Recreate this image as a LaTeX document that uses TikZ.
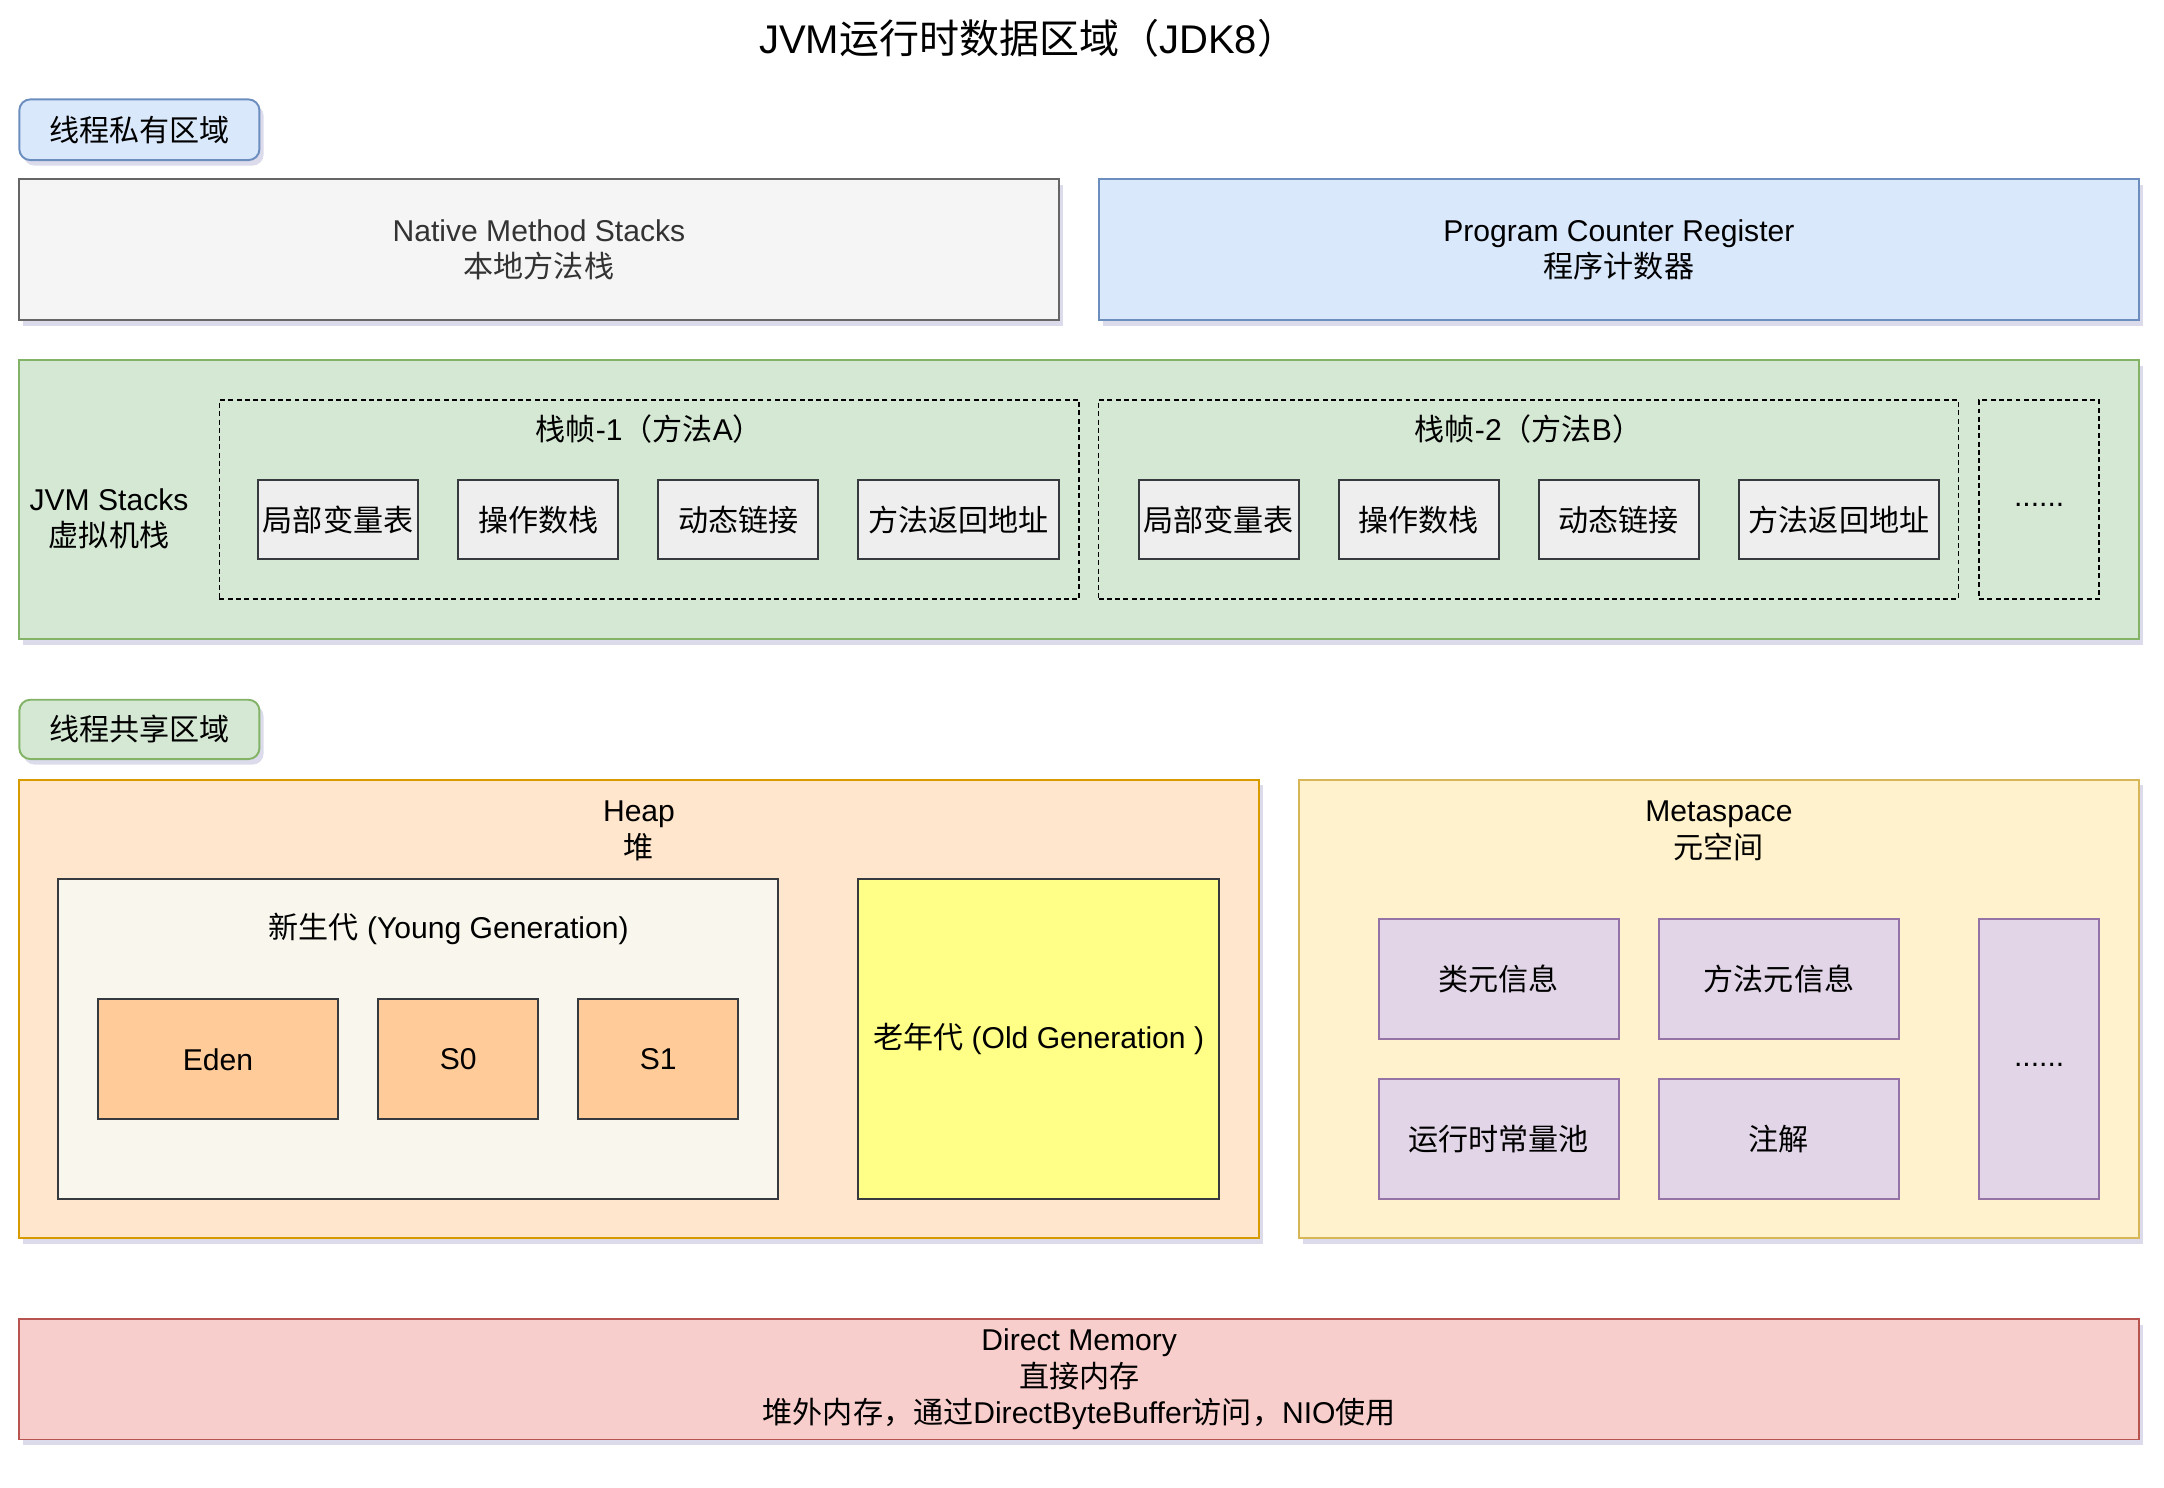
\documentclass[tikz,border=0pt]{standalone}
\usepackage{fontspec}
\setmainfont{Liberation Sans}
\newfontfamily\cjkfont{Noto Sans CJK SC}
\usepackage{xcolor}
\definecolor{tagblue}{HTML}{DAE8FC}
\definecolor{tagblueline}{HTML}{6C8EBF}
\definecolor{nativegray}{HTML}{F5F5F5}
\definecolor{nativegrayline}{HTML}{666666}
\definecolor{nativetext}{HTML}{333333}
\definecolor{stackgreen}{HTML}{D5E8D4}
\definecolor{stackgreenline}{HTML}{82B366}
\definecolor{slotgray}{HTML}{EEEEEE}
\definecolor{darkline}{HTML}{36393D}
\definecolor{heaporange}{HTML}{FFE6CC}
\definecolor{heaporangeline}{HTML}{D79B00}
\definecolor{younggray}{HTML}{F9F7ED}
\definecolor{edenorange}{HTML}{FFCC99}
\definecolor{oldyellow}{HTML}{FFFF88}
\definecolor{metayellow}{HTML}{FFF2CC}
\definecolor{metayellowline}{HTML}{D6B656}
\definecolor{metapurple}{HTML}{E1D5E7}
\definecolor{metapurpleline}{HTML}{9673A6}
\definecolor{directred}{HTML}{F8CECC}
\definecolor{directredline}{HTML}{B85450}
\usepackage{tikz}
\usetikzlibrary{positioning}
\usetikzlibrary{shadows}
\newcommand{\zh}[1]{{\cjkfont #1}}
\newcommand{\px}{0.5pt}
\newcommand{\diagfont}{\fontsize{10.9}{13.2}\selectfont}
\newcommand{\widthslot}{116*\px}
\newcommand{\widthslotwide}{145*\px}
\newcommand{\heightslot}{57*\px}
\newcommand{\widthmeta}{174*\px}
\newcommand{\heightmeta}{87*\px}
\tikzset{
    common/.style={anchor=north west, draw, rectangle, inner sep=0pt, outer sep=0pt, line width=0.7pt, align=center, font=\diagfont},
    shadowed/.style={drop shadow={shadow xshift=1.5pt, shadow yshift=-2pt, fill=gray!70!blue, opacity=0.22}},
    tag/.style={common, shadowed, rounded corners=4pt, minimum width=174*\px, minimum height=44*\px},
    area/.style={common, shadowed},
    frame/.style={common, dash pattern=on 1.8pt off 1.2pt, line width=0.6pt},
    slot/.style={common, fill=slotgray, draw=darkline, minimum width=\widthslot, minimum height=\heightslot},
    gen/.style={common, fill=edenorange, draw=darkline, minimum height=87*\px},
    meta/.style={common, fill=metapurple, draw=metapurpleline, minimum width=\widthmeta, minimum height=\heightmeta},
    caption/.style={align=center, inner sep=0pt, font=\diagfont}
}
\begin{document}
\begin{tikzpicture}[x=\px, y=-\px]
    \useasboundingbox (0,0) rectangle (1568,1078);

    \node[font=\fontsize{14.5}{17}\selectfont] (title) at (745,28) {JVM\zh{运行时数据区域（}JDK8\zh{）}};

    % thread private
    \path
        (14,72) node[tag, fill=tagblue, draw=tagblueline] (private-tag) {\zh{线程私有区域}}
        (14,130) node[area, fill=nativegray, draw=nativegrayline, text=nativetext, minimum width=753*\px, minimum height=102*\px] (native) {Native Method Stacks\\\zh{本地方法栈}}
        (796,130) node[area, fill=tagblue, draw=tagblueline, minimum width=754*\px, minimum height=102*\px] (pc) {Program Counter Register\\\zh{程序计数器}}
        (14,261) node[area, fill=stackgreen, draw=stackgreenline, minimum width=1536*\px, minimum height=202*\px] (jvm-stacks) {};

    \node[caption] (jvm-stacks-label) at (79,376) {JVM Stacks\\\zh{虚拟机栈}};

    \path
        (159,290) node[frame, minimum width=623*\px, minimum height=144*\px] (frame1) {}
        (796,290) node[frame, minimum width=623*\px, minimum height=144*\px] (frame2) {}
        (1434,290) node[frame, minimum width=87*\px, minimum height=144*\px] (frame-more) {\strut......};

    \node[caption] (frame1-label) at ([yshift=-10.5pt]frame1.north) {\zh{栈帧}-1\zh{（方法}A\zh{）}};
    \node[caption] (frame2-label) at ([yshift=-10.5pt]frame2.north) {\zh{栈帧}-2\zh{（方法}B\zh{）}};

    \path
        (187,348) node[slot] (f1-locals) {\zh{局部变量表}}
        ++(145,0) node[slot] (f1-operands) {\zh{操作数栈}}
        ++(145,0) node[slot] (f1-linking) {\zh{动态链接}}
        ++(145,0) node[slot, minimum width=\widthslotwide] (f1-return) {\zh{方法返回地址}};

    \path
        (825,348) node[slot] (f2-locals) {\zh{局部变量表}}
        ++(145,0) node[slot] (f2-operands) {\zh{操作数栈}}
        ++(145,0) node[slot] (f2-linking) {\zh{动态链接}}
        ++(145,0) node[slot, minimum width=\widthslotwide] (f2-return) {\zh{方法返回地址}};

    % thread shared
    \path
        (14,507) node[tag, fill=stackgreen, draw=stackgreenline, minimum height=43*\px] (shared-tag) {\zh{线程共享区域}}
        (14,565) node[area, fill=heaporange, draw=heaporangeline, minimum width=898*\px, minimum height=332*\px] (heap) {}
        (941,565) node[area, fill=metayellow, draw=metayellowline, minimum width=609*\px, minimum height=332*\px] (metaspace) {};

    \node[caption] (heap-label) at ([yshift=-18.5pt]heap.north) {Heap\\\zh{堆}};
    \node[caption] (metaspace-label) at ([yshift=-18.5pt]metaspace.north) {Metaspace\\\zh{元空间}};

    \path
        (42,637) node[common, fill=younggray, draw=darkline, minimum width=522*\px, minimum height=232*\px] (young) {}
        (622,637) node[common, fill=oldyellow, draw=darkline, minimum width=261*\px, minimum height=232*\px] (old) {\zh{老年代} (Old Generation )};

    \node[caption] (young-label) at ([xshift=11pt, yshift=-18pt]young.north) {\zh{新生代} (Young Generation)};

    \path
        (71,724) node[gen, minimum width=174*\px] (eden) {Eden}
        ++(203,0) node[gen, minimum width=116*\px] (s0) {S0}
        ++(145,0) node[gen, minimum width=116*\px] (s1) {S1};

    \path
        (999,666) node[meta] (class-meta) {\zh{类元信息}}
        ++(203,0) node[meta] (method-meta) {\zh{方法元信息}}
        (999,782) node[meta] (const-pool) {\zh{运行时常量池}}
        ++(203,0) node[meta] (annotations) {\zh{注解}}
        (1434,666) node[meta, minimum width=87*\px, minimum height=203*\px] (meta-more) {\strut......};

    % off heap
    \node[area, fill=directred, draw=directredline, minimum width=1536*\px, minimum height=87*\px] (direct) at (14,956)
        {Direct Memory\\\zh{直接内存}\\\zh{堆外内存，通过}DirectByteBuffer\zh{访问，}NIO\zh{使用}};
\end{tikzpicture}
\end{document}
